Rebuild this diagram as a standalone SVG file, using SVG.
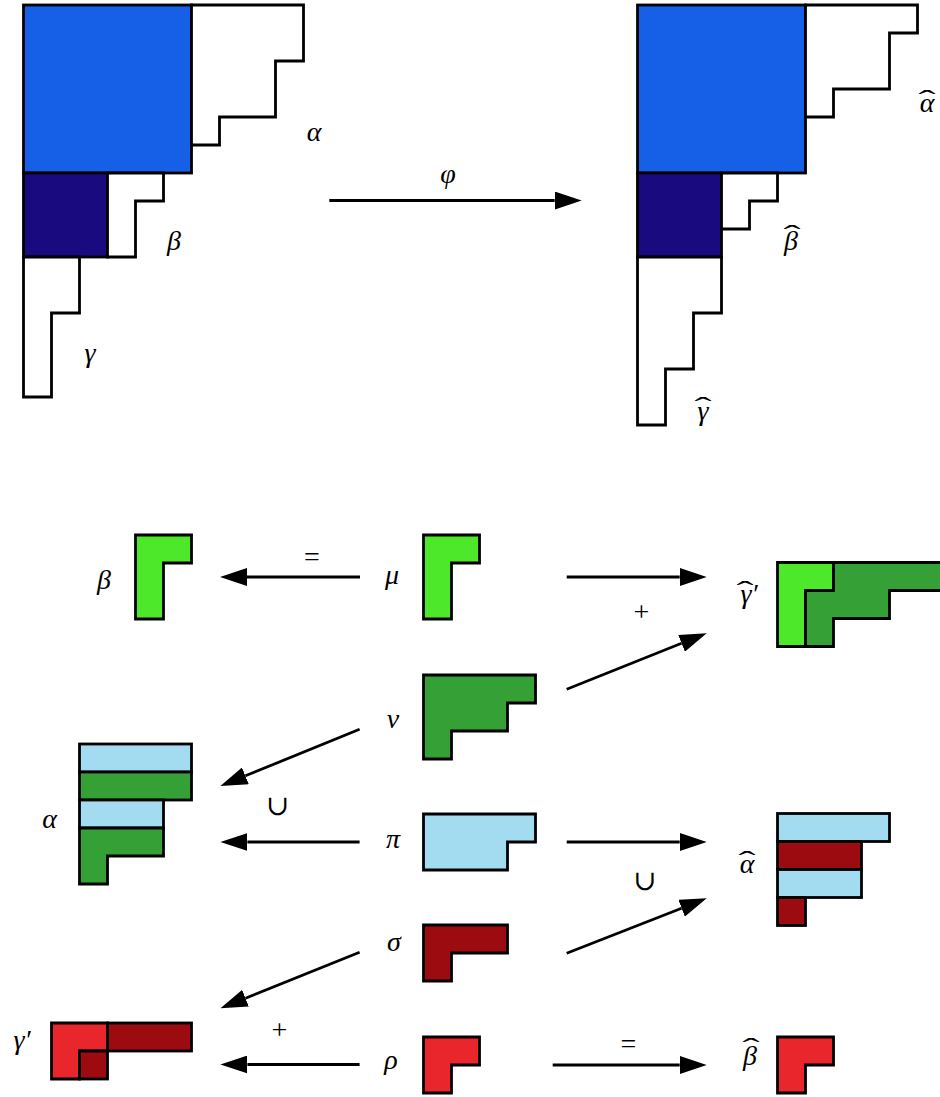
<svg xmlns="http://www.w3.org/2000/svg" width="940" height="1097" viewBox="0 0 940 1097">
<style>
.b{stroke:#000;stroke-width:2.8;stroke-linejoin:miter}
.w{fill:#fff}
.blue{fill:#1560E6}
.dblue{fill:#1A0A80}
.lg{fill:#4DE82A}
.dg{fill:#35A035}
.lb{fill:#A3DBF0}
.dr{fill:#9C0B10}
.lr{fill:#E8262B}
.m{font-family:"Liberation Serif","DejaVu Serif",serif;font-style:italic;font-size:28px;text-anchor:middle;fill:#000}
.o{font-family:"Liberation Serif","DejaVu Serif",serif;font-size:28px;text-anchor:middle;fill:#000}
.h{font-style:normal}
.a{stroke:#000;stroke-width:2.8;fill:none;marker-end:url(#ah)}
</style>
<defs>
<marker id="ah" markerWidth="27" markerHeight="18" refX="0" refY="9" orient="auto" markerUnits="userSpaceOnUse"><path d="M0,0 L27,9 L0,18 z" fill="#000"/></marker>
</defs>
<rect width="940" height="1097" fill="#fff"/>

<g id="top-left">
<rect class="b blue" x="23.5" y="5" width="168" height="168"/>
<polygon class="b w" points="191.5,5 303.5,5 303.5,61 275.5,61 275.5,117 219.5,117 219.5,145 191.5,145"/>
<rect class="b dblue" x="23.5" y="173" width="84" height="84"/>
<polygon class="b w" points="107.5,173 163.5,173 163.5,201 135.5,201 135.5,257 107.5,257"/>
<polygon class="b w" points="23.5,257 79.5,257 79.5,313 51.5,313 51.5,397 23.5,397"/>
<text class="m" x="314" y="141">α</text>
<text class="m" x="174" y="250">β</text>
<text class="m" x="90" y="362">γ</text>
</g>

<g id="top-right">
<rect class="b blue" x="637.5" y="5" width="168" height="168"/>
<polygon class="b w" points="805.5,5 917.5,5 917.5,33 889.5,33 889.5,89 833.5,89 833.5,117 805.5,117"/>
<rect class="b dblue" x="637.5" y="173" width="84" height="84"/>
<polygon class="b w" points="721.5,173 777.5,173 777.5,201 749.5,201 749.5,229 721.5,229"/>
<polygon class="b w" points="637.5,257 721.5,257 721.5,313 693.5,313 693.5,369 665.5,369 665.5,425 637.5,425"/>
<text class="m" x="927" y="112">α<tspan class="h" x="927" y="109" textLength="17" lengthAdjust="spacingAndGlyphs">ˆ</tspan></text>
<text class="m" x="791" y="250">β<tspan class="h" x="792" y="244" textLength="17" lengthAdjust="spacingAndGlyphs">ˆ</tspan></text>
<text class="m" x="703" y="420">γ<tspan class="h" x="703" y="416" textLength="17" lengthAdjust="spacingAndGlyphs">ˆ</tspan></text>
</g>

<g id="beta">
<polygon class="b lg" points="135.5,535 191.5,535 191.5,563 163.5,563 163.5,619 135.5,619"/>
<text class="m" x="104" y="589">β</text>
</g>
<g id="mu">
<polygon class="b lg" points="423.5,535 479.5,535 479.5,563 451.5,563 451.5,619 423.5,619"/>
<text class="m" x="392" y="584">μ</text>
</g>
<g id="gammahat-prime">
<polygon class="b lg" points="777.5,562.5 833.5,562.5 833.5,590.5 805.5,590.5 805.5,646.5 777.5,646.5"/>
<polygon class="b dg" points="833.5,562.5 945.5,562.5 945.5,590.5 889.5,590.5 889.5,618.5 833.5,618.5 833.5,646.5 805.5,646.5 805.5,590.5 833.5,590.5"/>
<text class="m" x="749" y="603">γ′<tspan class="h" x="745" y="600" textLength="17" lengthAdjust="spacingAndGlyphs">ˆ</tspan></text>
</g>
<g id="nu">
<polygon class="b dg" points="423.5,675 535.5,675 535.5,703 507.5,703 507.5,731 451.5,731 451.5,759 423.5,759"/>
<text class="m" x="393" y="728">ν</text>
</g>
<g id="alpha">
<rect class="b lb" x="79.5" y="744" width="112" height="28"/>
<rect class="b dg" x="79.5" y="772" width="112" height="28"/>
<rect class="b lb" x="79.5" y="800" width="84" height="28"/>
<polygon class="b dg" points="79.5,828 163.5,828 163.5,856 107.5,856 107.5,884 79.5,884"/>
<text class="m" x="49.5" y="828">α</text>
</g>
<g id="pi">
<polygon class="b lb" points="423.5,814 535.5,814 535.5,842 507.5,842 507.5,870 423.5,870"/>
<text class="m" x="393" y="848">π</text>
</g>
<g id="alphahat">
<rect class="b lb" x="777.5" y="813.5" width="112" height="28"/>
<rect class="b dr" x="777.5" y="841.5" width="84" height="28"/>
<rect class="b lb" x="777.5" y="869.5" width="84" height="28"/>
<rect class="b dr" x="777.5" y="897.5" width="28" height="28"/>
<text class="m" x="747" y="873">α<tspan class="h" x="747" y="870" textLength="17" lengthAdjust="spacingAndGlyphs">ˆ</tspan></text>
</g>
<g id="sigma">
<polygon class="b dr" points="423.5,925 507.5,925 507.5,953 451.5,953 451.5,981 423.5,981"/>
<text class="m" x="394" y="951">σ</text>
</g>
<g id="gamma-prime">
<polygon class="b lr" points="51.5,1023 107.5,1023 107.5,1051 79.5,1051 79.5,1079 51.5,1079"/>
<rect class="b dr" x="107.5" y="1023" width="84" height="28"/>
<rect class="b dr" x="79.5" y="1051" width="28" height="28"/>
<text class="m" x="22" y="1049">γ′</text>
</g>
<g id="rho">
<polygon class="b lr" points="423.5,1037 479.5,1037 479.5,1065 451.5,1065 451.5,1093 423.5,1093"/>
<text class="m" x="391" y="1069">ρ</text>
</g>
<g id="betahat">
<polygon class="b lr" points="777.5,1037 833.5,1037 833.5,1065 805.5,1065 805.5,1093 777.5,1093"/>
<text class="m" x="750" y="1065">β<tspan class="h" x="751" y="1057" textLength="17" lengthAdjust="spacingAndGlyphs">ˆ</tspan></text>
</g>

<g id="connectors">
<line class="a" x1="329.3" y1="200.5" x2="554.7" y2="200.5"/>
<line class="a" x1="360" y1="577" x2="247" y2="577"/>
<line class="a" x1="566.7" y1="577" x2="679.7" y2="577"/>
<line class="a" x1="359.6" y1="842" x2="247.4" y2="842"/>
<line class="a" x1="566.7" y1="842" x2="679.7" y2="842"/>
<line class="a" x1="359.6" y1="1064.5" x2="247.4" y2="1064.5"/>
<line class="a" x1="552.7" y1="1065" x2="679.7" y2="1065"/>
<line class="a" x1="359.6" y1="729.3" x2="245.4" y2="775.8"/>
<line class="a" x1="566.7" y1="689.3" x2="681.6" y2="643.3"/>
<line class="a" x1="359.6" y1="952.3" x2="245.5" y2="998.2"/>
<line class="a" x1="566.7" y1="953.3" x2="681.6" y2="908.2"/>
<text class="m" x="448" y="183">φ</text>
<text class="o" x="312" y="566">=</text>
<text class="o" x="641.5" y="621">+</text>
<text class="o" x="277.7" y="815">∪</text>
<text class="o" x="645" y="890">∪</text>
<text class="o" x="279.5" y="1039">+</text>
<text class="o" x="628.3" y="1053">=</text>
</g>
</svg>
